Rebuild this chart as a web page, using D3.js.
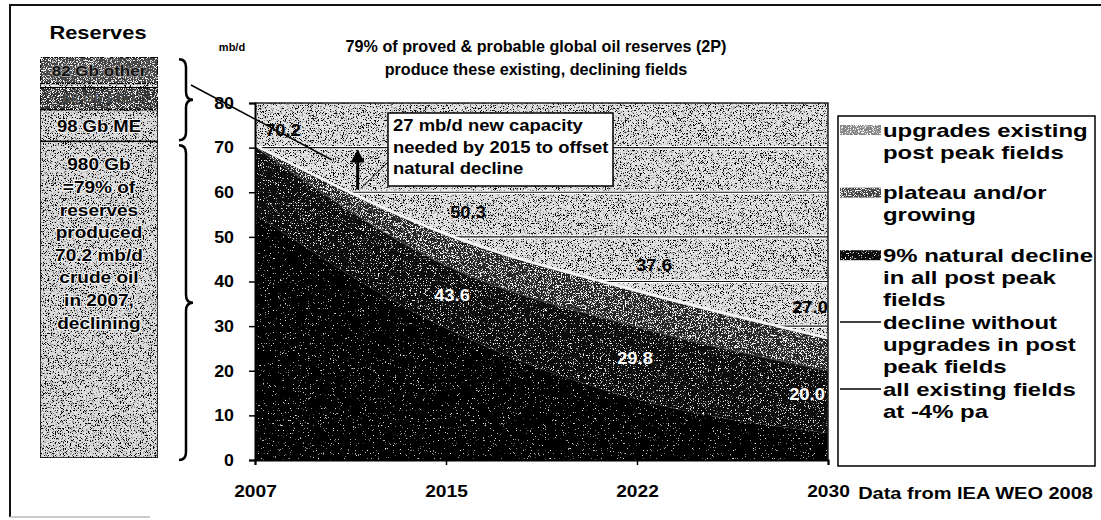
<!DOCTYPE html>
<html>
<head>
<meta charset="utf-8">
<script src="https://cdn.jsdelivr.net/npm/d3@7"></script>
<style>
  html, body { margin: 0; padding: 0; background: #fff; }
  svg { display: block; font-family: "Liberation Sans", Arial, sans-serif; font-weight: bold; }
</style>
</head>
<body>
<svg id="chart" width="1101" height="520"></svg>
<script>
// ---- data ----
const years = [2007, 2015, 2022, 2030];
const yearLabels = ["2007", "2015", "2022", "2030"];
const yTicks = [0, 10, 20, 30, 40, 50, 60, 70, 80];

// production from existing fields, mb/d (stacked bottom to top)
const naturalDecline = [55.0, 29.5, 13.6, 6.0];   // 9% natural decline in all post peak fields
const plateauGrowing = [15.2, 14.1, 16.2, 14.0];  // plateau and/or growing
const upgrades       = [0.0, 6.7, 7.8, 7.0];      // upgrades existing post peak fields

// reserves column, Gb (bottom to top)
const reserveNames  = ["produced", "ME", "mid", "strip", "other"];
const reserveValues = [980, 98, 68, 13, 82];
const producedLines = ["980 Gb", "=79% of", "reserves", "produced", "70.2 mb/d", "crude oil", "in 2007,", "declining"];

const seriesKeys = ["decline", "plateau", "upgrades"];
const legendItems = [
  { key: "upgrades", lines: ["upgrades existing", "post peak fields"] },
  { key: "plateau",  lines: ["plateau and/or", "growing"] },
  { key: "decline",  lines: ["9% natural decline", "in all post peak", "fields"] },
  { key: "noUpg",    lines: ["decline without", "upgrades in post", "peak fields"], line: true },
  { key: "minus4",   lines: ["all existing fields", "at -4% pa"], line: true }
];

const svg = d3.select("#chart");
const defs = svg.append("defs");

// fine dithered stipple textures
function speckle(id, white, gain, cut) {
  const f = defs.append("filter").attr("id", id)
    .attr("x", 0).attr("y", 0).attr("width", 1).attr("height", 1);
  f.append("feTurbulence").attr("type", "fractalNoise").attr("baseFrequency", 1.4)
    .attr("numOctaves", 1).attr("seed", 7).attr("result", "t");
  const c = white ? 1 : 0;
  f.append("feColorMatrix").attr("in", "t").attr("type", "matrix")
    .attr("values", `0 0 0 0 ${c}  0 0 0 0 ${c}  0 0 0 0 ${c}  0 0 0 ${gain} ${-gain * cut}`)
    .attr("result", "s");
  f.append("feComposite").attr("in", "s").attr("in2", "SourceGraphic").attr("operator", "in").attr("result", "sIn");
  const m = f.append("feMerge");
  m.append("feMergeNode").attr("in", "SourceGraphic");
  m.append("feMergeNode").attr("in", "sIn");
}
speckle("lightGrain", false, 10, 0.54);
speckle("darkGrain", true, 10, 0.54);
speckle("midGrain", true, 10, 0.62);
speckle("sparseGrain", true, 10, 0.68);

const fills = { decline: "#030303", plateau: "#0e0e0e", upgrades: "#262626" };
const grains = { decline: "url(#sparseGrain)", plateau: "url(#midGrain)", upgrades: "url(#darkGrain)" };
const swatchFills = { decline: "#111", plateau: "#444", upgrades: "#888" };
const swatchGrains = { decline: "url(#midGrain)", plateau: "url(#darkGrain)", upgrades: "url(#darkGrain)" };

// text drawn with a slight horizontal stretch
function wideText(parent, x, y, str, size, sx, anchor) {
  return parent.append("g").attr("transform", `translate(${x},${y}) scale(${sx},1)`)
    .append("text").attr("font-size", size).attr("text-anchor", anchor || "start").text(str);
}

// ---- outer frame ----
svg.append("path").attr("d", "M10,517 L10,5 L1101,5").attr("fill", "none")
  .attr("stroke", "#111").attr("stroke-width", 2);
svg.append("line").attr("x1", 10).attr("x2", 150).attr("y1", 517).attr("y2", 517)
  .attr("stroke", "#bbb").attr("stroke-width", 1.5);

// ---- scales ----
const plot = { left: 255, right: 828, top: 103, bottom: 460 };
const x = d3.scaleLinear().domain(years)
  .range(years.map((d, i) => plot.left + i * (plot.right - plot.left) / (years.length - 1)));
const y = d3.scaleLinear().domain([0, 80]).range([plot.bottom, plot.top]);

// ---- plot background ----
svg.append("rect").attr("x", plot.left).attr("y", plot.top)
  .attr("width", plot.right - plot.left).attr("height", plot.bottom - plot.top)
  .attr("fill", "#e2e2e2").attr("filter", "url(#lightGrain)");

// gridlines
const gridVals = yTicks.filter(d => d > 0 && d < 80);
svg.append("g").selectAll("line").data(gridVals).join("line")
  .attr("x1", plot.left).attr("x2", plot.right)
  .attr("y1", d => y(d)).attr("y2", d => y(d))
  .attr("stroke", "#fff").attr("stroke-width", 3.5);
svg.append("g").selectAll("line").data(gridVals).join("line")
  .attr("x1", plot.left).attr("x2", plot.right)
  .attr("y1", d => y(d)).attr("y2", d => y(d))
  .attr("stroke", "#111").attr("stroke-width", 1.2);

// ---- stacked areas ----
const table = years.map((yr, i) => ({
  year: yr, decline: naturalDecline[i], plateau: plateauGrowing[i], upgrades: upgrades[i]
}));
const stacked = d3.stack().keys(seriesKeys)(table);
const area = d3.area().curve(d3.curveMonotoneX)
  .x(d => x(d.data.year)).y0(d => y(d[0])).y1(d => y(d[1]));
svg.append("g").selectAll("path").data(stacked).join("path")
  .attr("d", area)
  .attr("fill", d => fills[d.key])
  .attr("filter", d => grains[d.key]);

const lineGen = d3.line().curve(d3.curveMonotoneX).x(d => x(d.data.year));
// decline without upgrades (top of plateau band)
svg.append("path").datum(stacked[1]).attr("fill", "none")
  .attr("stroke", "#444").attr("stroke-width", 1)
  .attr("d", lineGen.y(d => y(d[1])));
// all existing fields at -4% pa (top of stack)
svg.append("path").datum(stacked[2]).attr("fill", "none")
  .attr("stroke", "#f6f6f6").attr("stroke-width", 2.5)
  .attr("d", lineGen.y(d => y(d[1]) - 1.5));

// plot border
svg.append("path")
  .attr("d", `M${plot.left},${plot.top} L${plot.right},${plot.top} L${plot.right},${plot.bottom}`)
  .attr("fill", "none").attr("stroke", "#222").attr("stroke-width", 1.5);

// ---- axes ----
const yAxis = svg.append("g").attr("transform", `translate(${plot.left},0)`)
  .call(d3.axisLeft(y).tickValues(yTicks).tickSize(6).tickPadding(14).tickFormat(d3.format("d")));
const xAxis = svg.append("g").attr("transform", `translate(0,${plot.bottom})`)
  .call(d3.axisBottom(x).tickValues(years).tickSize(5).tickPadding(20)
    .tickFormat((d, i) => yearLabels[i]));
[yAxis, xAxis].forEach(a => {
  a.select(".domain").attr("stroke", "#000").attr("stroke-width", 2);
  a.selectAll(".tick line").attr("stroke", "#000").attr("stroke-width", 1.5);
  a.selectAll("text").attr("fill", "#000").attr("font-family", "Liberation Sans, Arial, sans-serif")
    .attr("font-weight", "bold");
});
yAxis.selectAll("text").attr("font-size", 16.5).attr("x", 0).attr("transform", "translate(-21,0) scale(1.08,1)");
xAxis.selectAll("text").attr("font-size", 17).attr("transform", "scale(1.13,1)");

// ---- value labels ----
const topVals = stacked[2];
const midVals = stacked[1];
const labelTop = svg.append("g").attr("fill", "#000");
const topOff = [[28, -17], [22, -24], [17, -27], [-18, -33]];
topVals.forEach((d, i) => {
  wideText(labelTop, x(d.data.year) + topOff[i][0], y(d[1]) + topOff[i][1] + 6, d3.format(".1f")(d[1]), 17, 1.08, "middle");
});
const labelMid = svg.append("g").attr("fill", "#fff");
const midOff = [null, [6, 30], [-2, 31], [-21, 23]];
midVals.forEach((d, i) => {
  if (!midOff[i]) return;
  wideText(labelMid, x(d.data.year) + midOff[i][0], y(d[1]) + midOff[i][1] + 6, d3.format(".1f")(d[1]), 17, 1.08, "middle");
});

// ---- new-capacity annotation ----
const arrowYear = 2011.3, arrowFrom = 60.6, arrowTo = 69.6;
const ax = x(arrowYear);
svg.append("line").attr("x1", ax).attr("x2", ax)
  .attr("y1", y(arrowFrom)).attr("y2", y(arrowTo) + 12)
  .attr("stroke", "#000").attr("stroke-width", 3);
svg.append("path")
  .attr("d", `M${ax - 7},${y(arrowTo) + 13} L${ax},${y(arrowTo)} L${ax + 7},${y(arrowTo) + 13} Z`)
  .attr("fill", "#000");
const box = { x: 388, y: 113, w: 225, h: 73 };
svg.append("line").attr("x1", box.x).attr("y1", box.y + 49).attr("x2", ax + 3).attr("y2", y(arrowFrom) - 1)
  .attr("stroke", "#000").attr("stroke-width", 1);
svg.append("rect").attr("x", box.x).attr("y", box.y).attr("width", box.w).attr("height", box.h)
  .attr("fill", "#fff").attr("stroke", "#000").attr("stroke-width", 1.5);
const callout = svg.append("g").attr("fill", "#000");
["27 mb/d new capacity", "needed by 2015 to offset", "natural decline"].forEach((t, i) =>
  wideText(callout, box.x + 5, box.y + 18 + i * 21.5, t, 16.5, 1.12));

// ---- titles ----
svg.append("text").attr("x", 232).attr("y", 51).attr("font-size", 11)
  .attr("text-anchor", "middle").text("mb/d");
const titleG = svg.append("g").attr("fill", "#000");
["79% of proved & probable global oil reserves (2P)", "produce these existing, declining fields"].forEach((t, i) =>
  wideText(titleG, 536, 52 + i * 23, t, 16.5, 0.98, "middle"));
wideText(svg, 1093, 499, "Data from IEA WEO 2008", 16, 1.25, "end");

// ---- reserves column ----
wideText(svg, 98, 39, "Reserves", 18.5, 1.18, "middle");
const r = d3.scaleLinear().domain([0, d3.sum(reserveValues)]).range([458, 57]);
const resStack = d3.stack().keys(reserveNames)([Object.fromEntries(reserveNames.map((k, i) => [k, reserveValues[i]]))]);
const resFill = { produced: "#dcdcdc", ME: "#dcdcdc", mid: "#333", strip: "#f0f0f0", other: "#444" };
const resGrain = { produced: "url(#lightGrain)", ME: "url(#lightGrain)", mid: "url(#darkGrain)", strip: "url(#lightGrain)", other: "url(#darkGrain)" };
const col = { x: 40, w: 118 };
svg.append("g").selectAll("rect").data(resStack).join("rect")
  .attr("x", col.x).attr("width", col.w)
  .attr("y", d => r(d[0][1])).attr("height", d => r(d[0][0]) - r(d[0][1]))
  .attr("fill", d => resFill[d.key]).attr("filter", d => resGrain[d.key])
  .attr("stroke", "#000").attr("stroke-width", 1.5);
const seg = k => resStack.find(s => s.key === k)[0];
const segMid = k => (r(seg(k)[0]) + r(seg(k)[1])) / 2;
const cx = col.x + col.w / 2;
function haloText(t) {
  return t.attr("stroke", "#f2f2f2").attr("stroke-width", 2.2).attr("paint-order", "stroke")
    .attr("stroke-linejoin", "round");
}
haloText(wideText(svg, cx, segMid("other") + 5.5, "82 Gb other", 15.5, 1.1, "middle").attr("fill", "#111"))
  .attr("stroke", "#9a9a9a").attr("stroke-width", 1.6);
wideText(svg, cx, segMid("mid") + 4.5, "68 Gb FSU", 13, 1.1, "middle").attr("fill", "#4a4a4a");
haloText(wideText(svg, cx, segMid("ME") + 6, "98 Gb ME", 16.5, 1.12, "middle").attr("fill", "#000"));
producedLines.forEach((t, i) =>
  haloText(wideText(svg, cx, r(seg("produced")[1]) + 29 + i * 22.6, t, 17, 1.12, "middle").attr("fill", "#000")));

// braces
function brace(x0, y0, y1, depth) {
  const ym = (y0 + y1) / 2, h = depth / 2;
  return `M${x0},${y0} Q${x0 + h},${y0} ${x0 + h},${y0 + 8} L${x0 + h},${ym - 8} Q${x0 + h},${ym} ${x0 + depth},${ym}` +
         ` Q${x0 + h},${ym} ${x0 + h},${ym + 8} L${x0 + h},${y1 - 8} Q${x0 + h},${y1} ${x0},${y1}`;
}
svg.append("path").attr("d", brace(179, r(seg("ME")[0]) - 82, r(seg("ME")[0]) - 1, 14))
  .attr("fill", "none").attr("stroke", "#000").attr("stroke-width", 2.5);
svg.append("path").attr("d", brace(179, r(seg("produced")[1]) + 4, 460, 14))
  .attr("fill", "none").attr("stroke", "#000").attr("stroke-width", 2.5);
// pointer from the reserves brace into the chart
svg.append("line").attr("x1", 191).attr("y1", 85).attr("x2", 332).attr("y2", 160)
  .attr("stroke", "#000").attr("stroke-width", 1.5);

// ---- legend ----
const lg = svg.append("g");
lg.append("rect").attr("x", 838).attr("y", 116).attr("width", 257).attr("height", 350)
  .attr("fill", "#fff").attr("stroke", "#000").attr("stroke-width", 1.5);
let ly = 130;
legendItems.forEach((item, idx) => {
  if (item.line) {
    lg.append("line").attr("x1", 840).attr("x2", 881).attr("y1", ly).attr("y2", ly)
      .attr("stroke", "#000").attr("stroke-width", 1.5);
  } else {
    lg.append("rect").attr("x", 840).attr("y", ly - 5).attr("width", 41).attr("height", 10)
      .attr("fill", swatchFills[item.key]).attr("filter", swatchGrains[item.key]);
  }
  item.lines.forEach((t, i) => wideText(lg, 883, ly + 6.5 + i * 22.3, t, 18, 1.33).attr("fill", "#000"));
  ly += item.lines.length * 22.3 + (idx < 2 ? 18 : 0);
});
</script>
</body>
</html>
